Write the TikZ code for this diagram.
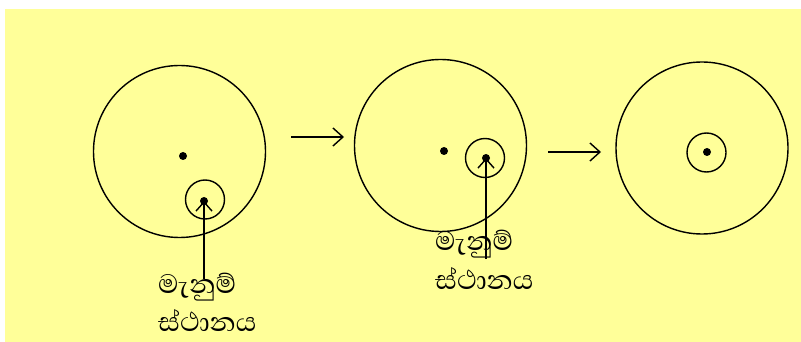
\documentclass[tikz,border=0pt]{standalone}
\usepackage{fontspec}
\newfontfamily\sinhalafont[Script=Sinhala]{Abhaya Libre}
\usetikzlibrary{arrows.meta}
\definecolor{bgyellow}{RGB}{255,255,153}
\tikzset{
  big/.style={draw, circle, line width=1.4pt, minimum size=172pt, inner sep=0pt},
  small/.style={draw, circle, line width=1.4pt, minimum size=39pt, inner sep=0pt},
  dot/.style={fill, circle, minimum size=8pt, inner sep=0pt},
  arr/.style={line width=1.4pt, -{Straight Barb[length=10pt, width=18pt]}},
  ptr/.style={line width=1.4pt, -{Straight Barb[length=9pt, width=16pt]}},
  lbl/.style={font=\sinhalafont\fontsize{34}{38}\selectfont, inner sep=0pt, anchor=base west},
}
\begin{document}
\begin{tikzpicture}[x=1pt,y=-1pt]
\useasboundingbox (0,0) rectangle (801,342);
\fill[bgyellow] (5,9) rectangle (801,342);
% circle 1
\node[big] (c1) at (179.5,151.5) {};
\node[dot] (d1) at (183,156) {};
\node[small] (s1) at (205,199.5) {};
\node[dot] (sd1) at (204,201) {};
% circle 2
\node[big] (c2) at (440.5,145.5) {};
\node[dot] (d2) at (444,151) {};
\node[small] (s2) at (485,158) {};
\node[dot] (sd2) at (486,158) {};
% circle 3
\node[big] (c3) at (702,148) {};
\node[small] (s3) at (706.5,152.5) {};
\node[dot] (sd3) at (707,152) {};
% transition arrows
\coordinate (a1s) at (291,137);
\coordinate (a1e) at (344,137);
\draw[arr] (a1s) -- (a1e);
\coordinate (a2s) at (548,152);
\coordinate (a2e) at (601,152);
\draw[arr] (a2s) -- (a2e);
% labels
\node[lbl] (t1a) at (158,293) {මැනුම්};
\node[lbl] (t1b) at (158,331) {ස්ථානය};
\node[lbl] (t2a) at (435,251) {මැනුම්};
\node[lbl] (t2b) at (435,289) {ස්ථානය};
\coordinate (p1) at (204,279);
\coordinate (p2) at (486,259);
\draw[ptr] (p1) -- (sd1.center);
\draw[ptr] (p2) -- (sd2.center);
\end{tikzpicture}
\end{document}
